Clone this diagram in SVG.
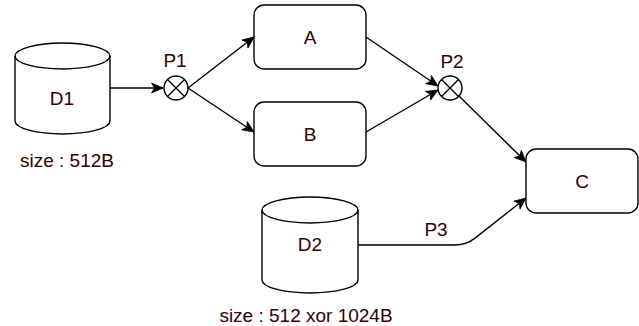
<svg xmlns="http://www.w3.org/2000/svg" width="639" height="326" viewBox="0 0 639 326">
<style>
.sh{fill:#fff;stroke:#000;stroke-width:1.4}
.ln{fill:none;stroke:#000;stroke-width:1.4}
.t{font-family:"Liberation Sans",Arial,sans-serif;font-size:19px;fill:#330000;text-anchor:middle}
</style>
<defs>
<marker id="arr" markerUnits="userSpaceOnUse" markerWidth="14" markerHeight="12" refX="12" refY="6" orient="auto">
<path d="M0.5,1 L12,6 L0.5,11 L3.5,6 Z" fill="#000" stroke="#000" stroke-width="0.8"/>
</marker>
</defs>
<rect width="639" height="326" fill="#fff"/>
<g id="connectors">
<path class="ln" d="M110 88 H163" marker-end="url(#arr)"/>
<path class="ln" d="M188 88 L254 37" marker-end="url(#arr)"/>
<path class="ln" d="M188 88 L254 132" marker-end="url(#arr)"/>
<path class="ln" d="M366 37 L438 86" marker-end="url(#arr)"/>
<path class="ln" d="M366 132 L438 90" marker-end="url(#arr)"/>
<path class="ln" d="M459 96 L526 162" marker-end="url(#arr)"/>
<path class="ln" d="M358 245 H455 Q466 245 474.7 238.4 L526 198" marker-end="url(#arr)"/>
<text class="t" x="436" y="236">P3</text>
</g>
<g id="D1">
<path class="sh" d="M15 56 A47.5 13 0 0 1 110 56 V121 A47.5 13 0 0 1 15 121 Z"/>
<path class="ln" d="M15 56 A47.5 13 0 0 0 110 56"/>
<text class="t" x="62" y="105">D1</text>
<text class="t" x="67" y="167">size : 512B</text>
</g>
<g id="P1">
<circle class="sh" cx="176" cy="88" r="12"/>
<path class="ln" d="M167.5 79.5 L184.5 96.5 M184.5 79.5 L167.5 96.5"/>
<text class="t" x="175" y="67">P1</text>
</g>
<g id="A">
<rect class="sh" x="254" y="5" width="112" height="64" rx="10"/>
<text class="t" x="310" y="44">A</text>
</g>
<g id="B">
<rect class="sh" x="254" y="102" width="112" height="64" rx="10"/>
<text class="t" x="310" y="141">B</text>
</g>
<g id="P2">
<circle class="sh" cx="450" cy="88" r="12"/>
<path class="ln" d="M441.5 79.5 L458.5 96.5 M458.5 79.5 L441.5 96.5"/>
<text class="t" x="452" y="68">P2</text>
</g>
<g id="C">
<rect class="sh" x="526" y="149" width="112" height="64" rx="10"/>
<text class="t" x="582" y="188">C</text>
</g>
<g id="D2">
<path class="sh" d="M262 210 A48 13 0 0 1 358 210 V280 A48 13 0 0 1 262 280 Z"/>
<path class="ln" d="M262 210 A48 13 0 0 0 358 210"/>
<text class="t" x="310" y="251">D2</text>
<text class="t" x="306" y="322">size : 512 xor 1024B</text>
</g>
</svg>
